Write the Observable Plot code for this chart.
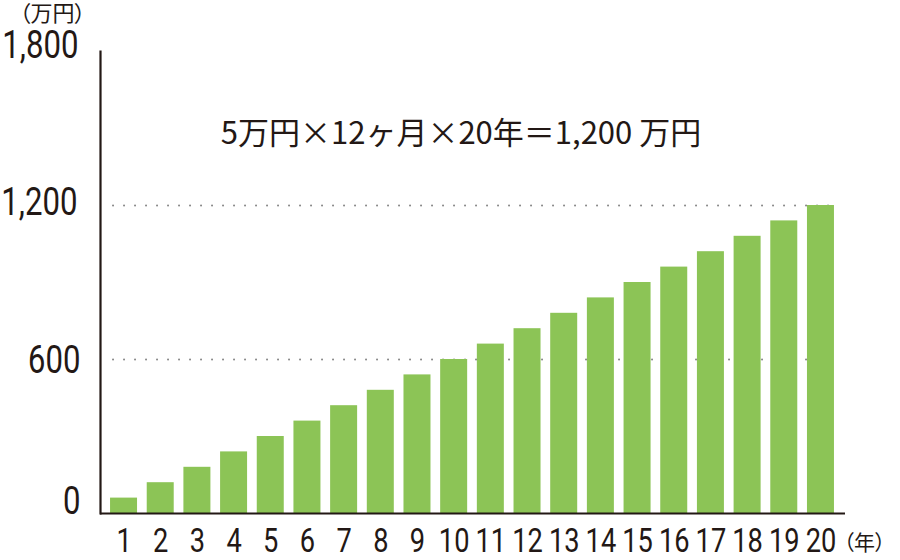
<!DOCTYPE html>
<html>
<head>
<meta charset="utf-8">
<script src="https://cdn.jsdelivr.net/npm/d3@7"></script>
<script src="https://cdn.jsdelivr.net/npm/@observablehq/plot@0.6"></script>
<style>
  html, body { margin: 0; padding: 0; background: #fff; }
  #chart svg { display: block; }
  .palt { font-feature-settings: "palt"; }
</style>
</head>
<body>
<div id="chart"></div>
<script>
const years = [1,2,3,4,5,6,7,8,9,10,11,12,13,14,15,16,17,18,19,20];
const amounts = [60,120,180,240,300,360,420,480,540,600,660,720,780,840,900,960,1020,1080,1140,1200];
const gridValues = [600, 1200];
const yTicks = [0, 600, 1200, 1800];
const unitY = "（万円）";
const unitX = "（年）";
const formula = "5万円×12ヶ月×20年＝1,200 万円";

const data = years.map((y, i) => ({year: y, amount: amounts[i]}));

const ink = "#231815";
const green = "#8cc456";
const numFont = "Roboto, 'Noto Sans CJK JP', sans-serif";
const cjkFont = "'Noto Sans CJK JP', sans-serif";

const step = 36.68;
const x0 = 105.2;
const fmt = d3.format(",");

const chart = Plot.plot({
  width: 900,
  height: 560,
  marginLeft: 100,
  marginRight: 55,
  marginTop: 51,
  marginBottom: 47,
  style: {fontFamily: numFont, color: ink, background: "#fff", overflow: "visible"},
  x: {type: "band", domain: years, range: [x0, x0 + step * years.length], paddingInner: 0.264, paddingOuter: 0.132, round: false, axis: null, label: null},
  y: {domain: [0, 1800], axis: null, label: null},
  marks: [
    Plot.ruleY(gridValues, {stroke: "#8a8a8a", strokeWidth: 2, strokeDasharray: "0.1,10.9", strokeLinecap: "round", insetLeft: 13, insetRight: 7}),
    Plot.barY(data, {x: "year", y: "amount", fill: green}),
    Plot.frame({anchor: "left", stroke: ink, strokeWidth: 2.2}),
    Plot.ruleY([0], {stroke: ink, strokeWidth: 2.2}),
    Plot.axisX(years, {tickSize: 0, tickPadding: 28, lineAnchor: "middle", fontSize: 34, fill: ink, label: null}),
    Plot.axisY([yTicks[0]], {tickSize: 0, tickPadding: 20, dy: -11.5, fontSize: 38, fill: ink, tickFormat: fmt, label: null}),
    Plot.axisY([yTicks[1]], {tickSize: 0, tickPadding: 20, dy: 1, fontSize: 38, fill: ink, tickFormat: fmt, label: null}),
    Plot.axisY([yTicks[2]], {tickSize: 0, tickPadding: 23, dy: -2.5, fontSize: 38, fill: ink, tickFormat: fmt, label: null}),
    Plot.axisY([yTicks[3]], {tickSize: 0, tickPadding: 22, dy: -6, fontSize: 38, fill: ink, tickFormat: fmt, label: null}),
    Plot.text([formula], {frameAnchor: "top", dx: -12, dy: 83, lineAnchor: "middle", fontSize: 31, fill: ink, fontFamily: cjkFont}),
    Plot.text([unitY], {frameAnchor: "top-left", dx: -48, dy: -38, textAnchor: "middle", lineAnchor: "middle", fontSize: 22, fill: ink, fontFamily: cjkFont, className: "palt"}),
    Plot.text([unitX], {frameAnchor: "bottom-right", dx: -2, dy: 30, textAnchor: "start", lineAnchor: "middle", fontSize: 21, fill: ink, fontFamily: cjkFont, className: "palt"})
  ]
});

document.getElementById("chart").append(chart);

// condense the numeric tick labels (the reference uses a narrow DIN-like face)
d3.select(chart).selectAll('g[aria-label="x-axis tick label"] text')
  .each(function() {
    const len = this.getComputedTextLength();
    this.setAttribute("textLength", (len * 0.8).toFixed(1));
    this.setAttribute("lengthAdjust", "spacingAndGlyphs");
  });
d3.select(chart).selectAll('g[aria-label="y-axis tick label"] text')
  .each(function() {
    const len = this.getComputedTextLength();
    this.setAttribute("textLength", (len * 0.82).toFixed(1));
    this.setAttribute("lengthAdjust", "spacingAndGlyphs");
  });
</script>
</body>
</html>
